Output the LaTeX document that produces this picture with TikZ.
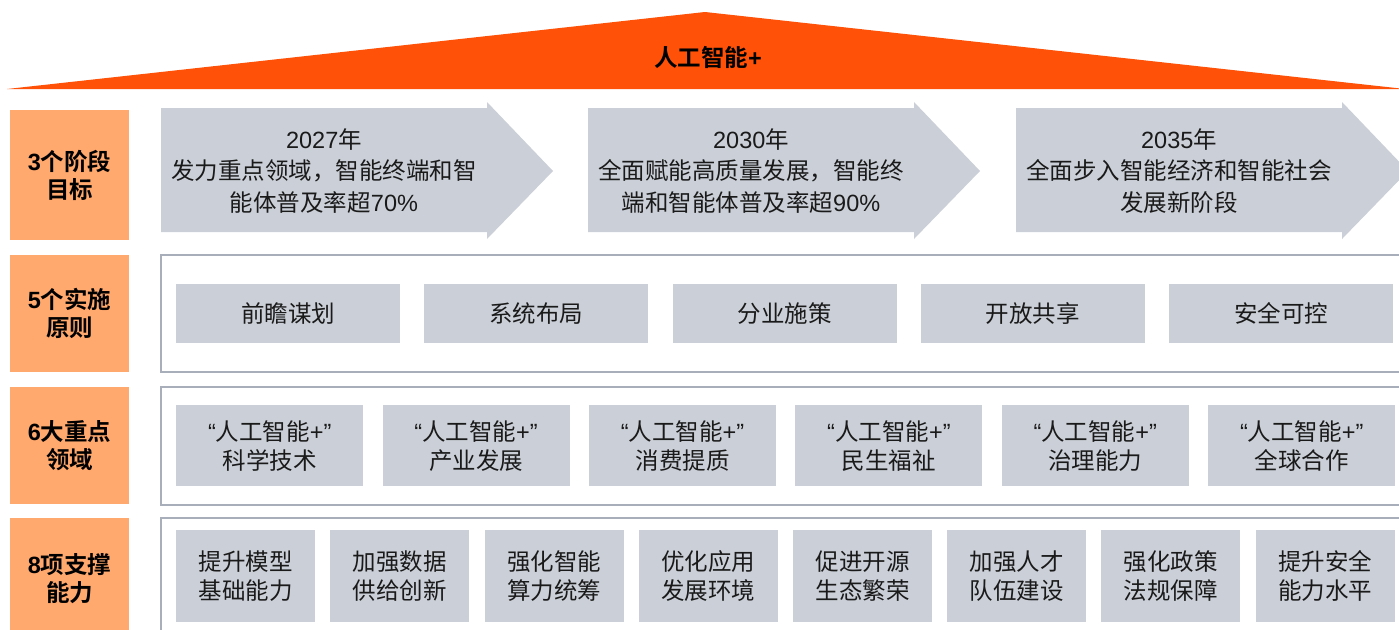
\documentclass[tikz,border=0pt]{standalone}
\usepackage{fontspec}
\setmainfont{Noto Sans CJK SC}[BoldFont={Noto Sans CJK SC Bold}]
\newfontfamily\lat{Liberation Sans}
\definecolor{roof}{HTML}{FF5208}
\definecolor{lab}{HTML}{FFA96E}
\definecolor{boxgray}{HTML}{CBD0D8}
\definecolor{framegray}{HTML}{A8AFBA}
\definecolor{ink}{HTML}{1A1A1A}
\newcommand\AIplus{{\lat “}人工智能{\lat +”}}
\begin{document}
\begin{tikzpicture}[x=1pt,y=-1pt,
  graybox/.style={fill=boxgray, inner sep=0pt, anchor=north west, align=center, text=ink,
    font=\fontsize{23.5}{29}\selectfont},
  labbox/.style={fill=lab, inner sep=0pt, anchor=north west, align=center, text=black,
    minimum width=119pt, font=\fontsize{23.5}{28}\selectfont\bfseries},
  frame/.style={draw=framegray, line width=1.6pt},
  arrowfill/.style={fill=boxgray},
  arrowtext/.style={align=center, text=ink, font=\fontsize{23.5}{31.5}\selectfont}
]
\path[use as bounding box] (0,0) rectangle (1399,629);
\clip (0,0) rectangle (1399,629);
\fill[white] (0,0) rectangle (1399,629);

% roof
\fill[roof] (7,89) -- (705,12) -- (1405,89) -- cycle;
\node[font=\fontsize{23.5}{28}\selectfont\bfseries, text=black] (roofnode) at (708,57) {人工智能{\lat\bfseries +}};

% left labels
\node[labbox, minimum height=130pt] (l1) at (10,110) {{\lat\bfseries 3}个阶段\\目标};
\node[labbox, minimum height=117pt] (l2) at (10,255) {{\lat\bfseries 5}个实施\\原则};
\node[labbox, minimum height=117pt] (l3) at (10,387) {{\lat\bfseries 6}大重点\\领域};
\node[labbox, minimum height=120pt] (l4) at (10,518) {{\lat\bfseries 8}项支撑\\能力};

% stage arrows
\foreach \x [count=\i] in {161,588,1016}{
  \fill[boxgray] (\x,108) -- (\x+326,108) -- (\x+326,102) -- (\x+392,171)
     -- (\x+326,239) -- (\x+326,232) -- (\x,232) -- cycle;
}
\node[arrowtext] (s1) at (324,171) {{\lat 2027}年\\发力重点领域，智能终端和智\\能体普及率超{\lat 70\%}};
\node[arrowtext] (s2) at (751,171) {{\lat 2030}年\\全面赋能高质量发展，智能终\\端和智能体普及率超{\lat 90\%}};
\node[arrowtext] (s3) at (1179,171) {{\lat 2035}年\\全面步入智能经济和智能社会\\发展新阶段};

% frames
\draw[frame] (161,255) rectangle (1420,372);
\draw[frame] (161,387) rectangle (1420,505);
\draw[frame] (161,518) rectangle (1420,660);

% principles
\foreach \t [count=\i] in {前瞻谋划,系统布局,分业施策,开放共享,安全可控}{
  \node[graybox, minimum width=224pt, minimum height=59pt] (p\i) at ({176+(\i-1)*248.25},284) {\t};
}

% key areas
\foreach \t [count=\i] in {科学技术,产业发展,消费提质,民生福祉,治理能力,全球合作}{
  \node[graybox, minimum width=187pt, minimum height=81pt] (d\i) at ({176+(\i-1)*206.4},405) {\AIplus\\\t};
}

% capabilities
\foreach \a/\b [count=\i] in {提升模型/基础能力,加强数据/供给创新,强化智能/算力统筹,优化应用/发展环境,促进开源/生态繁荣,加强人才/队伍建设,强化政策/法规保障,提升安全/能力水平}{
  \node[graybox, minimum width=139pt, minimum height=92pt] (c\i) at ({176+(\i-1)*154.2},530) {\a\\\b};
}
\end{tikzpicture}
\end{document}
